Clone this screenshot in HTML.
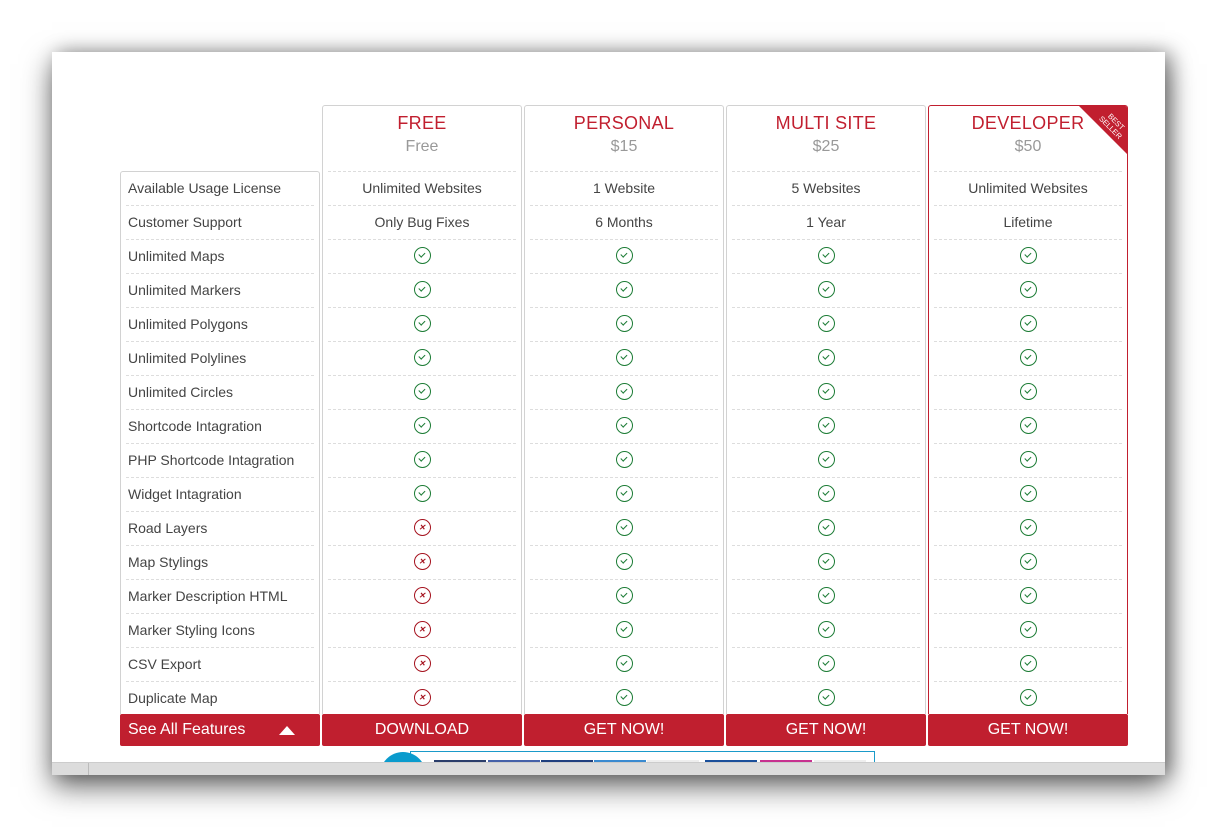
<!DOCTYPE html>
<html><head><meta charset="utf-8"><style>
body{margin:0;width:1217px;height:827px;background:#fff;position:relative;overflow:hidden;font-family:"Liberation Sans",sans-serif;}
.win{position:absolute;left:52px;top:52px;width:1113px;height:723px;background:#fff;box-shadow:0 12px 28px rgba(0,0,0,.55),6px 0 18px rgba(0,0,0,.35);overflow:hidden}
.bar{position:absolute;left:0;top:710px;width:1113px;height:13px;background:#dcdcdc;border-top:1px solid #ccc}
.col{position:absolute;top:105px;width:198px;height:608px;border:1px solid #d2d2d2;border-bottom:none;border-radius:3px 3px 0 0;background:#fff;overflow:hidden}
.dev{border-color:#c11f2f}
.hd{height:65px;text-align:center}
.t{color:#c11f2f;font-size:18px;padding-top:7px;line-height:20px;letter-spacing:.3px}
.p{color:#999;font-size:16px;line-height:20px;margin-top:4px}
.r{height:33px;margin:0 5px;border-top:1px dashed #ddd;text-align:center;font-size:14px;color:#444;line-height:33px}
.fc{position:absolute;left:120px;top:171px;width:198px;height:542px;border:1px solid #d2d2d2;border-bottom:none;border-radius:3px 3px 0 0;overflow:hidden}
.fc .r{text-align:left;padding-left:2px;border-top:none;border-bottom:1px dashed #ddd}
.ok,.no{display:inline-block;width:15px;height:15px;border:1.6px solid #1c7c35;border-radius:50%;position:relative;vertical-align:middle;margin-top:-3px}
.ok::after{content:"";position:absolute;left:5.5px;top:3px;width:2.5px;height:5px;border:solid #1c7c35;border-width:0 1.6px 1.6px 0;transform:rotate(45deg)}
.no{border-color:#a5121e}
.no::after{content:"✕";position:absolute;left:0;top:0;width:15px;line-height:15px;font-size:8px;font-weight:bold;color:#a5121e;text-align:center}
.btn{position:absolute;top:714px;height:32px;background:#c01f2f;color:#fff;font-size:16px;line-height:32px;text-align:center;border-radius:2px}
.rib{position:absolute;right:0;top:0;width:48px;height:48px;background:#c11f2f;clip-path:polygon(0 0,100% 0,100% 100%)}
.rib span{position:absolute;left:14px;top:11px;width:40px;transform:rotate(45deg);color:#fff;font-size:7.5px;line-height:8px;text-align:center}
</style></head><body>
<div class="win">
<div style="position:absolute;left:358px;top:699px;width:463px;height:20px;border:1px solid #1a9ac9"></div>
<div style="position:absolute;left:328px;top:700px;width:46px;height:46px;border-radius:50%;background:#0a9bcd"></div>
<div style="position:absolute;left:382px;top:708px;width:52px;height:6px;background:#2a3d6b"></div>
<div style="position:absolute;left:436px;top:708px;width:52px;height:6px;background:#4460a8"></div>
<div style="position:absolute;left:489px;top:708px;width:52px;height:6px;background:#1f3f7e"></div>
<div style="position:absolute;left:542px;top:708px;width:52px;height:6px;background:#3a8ad0"></div>
<div style="position:absolute;left:595px;top:708px;width:52px;height:6px;background:#eee"></div>
<div style="position:absolute;left:653px;top:708px;width:52px;height:6px;background:#1a4f9a"></div>
<div style="position:absolute;left:708px;top:708px;width:52px;height:6px;background:#c7318f"></div>
<div style="position:absolute;left:762px;top:708px;width:52px;height:6px;background:#eee"></div>
<div class="bar"></div>
<div style="position:absolute;left:0;top:711px;width:36px;height:12px;border-right:1px solid #bbb"></div>
</div>

<div class="fc">
<div class="r">Available Usage License</div><div class="r">Customer Support</div><div class="r">Unlimited Maps</div><div class="r">Unlimited Markers</div><div class="r">Unlimited Polygons</div><div class="r">Unlimited Polylines</div><div class="r">Unlimited Circles</div><div class="r">Shortcode Intagration</div><div class="r">PHP Shortcode Intagration</div><div class="r">Widget Intagration</div><div class="r">Road Layers</div><div class="r">Map Stylings</div><div class="r">Marker Description HTML</div><div class="r">Marker Styling Icons</div><div class="r">CSV Export</div><div class="r">Duplicate Map</div>
</div>

<div class="col" style="left:322px"><div class="hd"><div class="t">FREE</div><div class="p">Free</div></div>
<div class="r">Unlimited Websites</div><div class="r">Only Bug Fixes</div><div class="r"><i class="ok"></i></div><div class="r"><i class="ok"></i></div><div class="r"><i class="ok"></i></div><div class="r"><i class="ok"></i></div><div class="r"><i class="ok"></i></div><div class="r"><i class="ok"></i></div><div class="r"><i class="ok"></i></div><div class="r"><i class="ok"></i></div><div class="r"><i class="no"></i></div><div class="r"><i class="no"></i></div><div class="r"><i class="no"></i></div><div class="r"><i class="no"></i></div><div class="r"><i class="no"></i></div><div class="r"><i class="no"></i></div></div>

<div class="col" style="left:524px"><div class="hd"><div class="t">PERSONAL</div><div class="p">$15</div></div>
<div class="r">1 Website</div><div class="r">6 Months</div><div class="r"><i class="ok"></i></div><div class="r"><i class="ok"></i></div><div class="r"><i class="ok"></i></div><div class="r"><i class="ok"></i></div><div class="r"><i class="ok"></i></div><div class="r"><i class="ok"></i></div><div class="r"><i class="ok"></i></div><div class="r"><i class="ok"></i></div><div class="r"><i class="ok"></i></div><div class="r"><i class="ok"></i></div><div class="r"><i class="ok"></i></div><div class="r"><i class="ok"></i></div><div class="r"><i class="ok"></i></div><div class="r"><i class="ok"></i></div></div>

<div class="col" style="left:726px"><div class="hd"><div class="t">MULTI SITE</div><div class="p">$25</div></div>
<div class="r">5 Websites</div><div class="r">1 Year</div><div class="r"><i class="ok"></i></div><div class="r"><i class="ok"></i></div><div class="r"><i class="ok"></i></div><div class="r"><i class="ok"></i></div><div class="r"><i class="ok"></i></div><div class="r"><i class="ok"></i></div><div class="r"><i class="ok"></i></div><div class="r"><i class="ok"></i></div><div class="r"><i class="ok"></i></div><div class="r"><i class="ok"></i></div><div class="r"><i class="ok"></i></div><div class="r"><i class="ok"></i></div><div class="r"><i class="ok"></i></div><div class="r"><i class="ok"></i></div></div>

<div class="col dev" style="left:928px"><div class="rib"><span>BEST<br>SELLER</span></div><div class="hd"><div class="t">DEVELOPER</div><div class="p">$50</div></div>
<div class="r">Unlimited Websites</div><div class="r">Lifetime</div><div class="r"><i class="ok"></i></div><div class="r"><i class="ok"></i></div><div class="r"><i class="ok"></i></div><div class="r"><i class="ok"></i></div><div class="r"><i class="ok"></i></div><div class="r"><i class="ok"></i></div><div class="r"><i class="ok"></i></div><div class="r"><i class="ok"></i></div><div class="r"><i class="ok"></i></div><div class="r"><i class="ok"></i></div><div class="r"><i class="ok"></i></div><div class="r"><i class="ok"></i></div><div class="r"><i class="ok"></i></div><div class="r"><i class="ok"></i></div></div>

<div class="btn" style="left:120px;width:200px;text-align:left;padding-left:8px;box-sizing:border-box">See All Features<span style="position:absolute;left:159px;top:12px;width:0;height:0;border-left:8px solid transparent;border-right:8px solid transparent;border-bottom:9px solid #fff"></span></div>
<div class="btn" style="left:322px;width:200px">DOWNLOAD</div>
<div class="btn" style="left:524px;width:200px">GET NOW!</div>
<div class="btn" style="left:726px;width:200px">GET NOW!</div>
<div class="btn" style="left:928px;width:200px">GET NOW!</div>
</body></html>
